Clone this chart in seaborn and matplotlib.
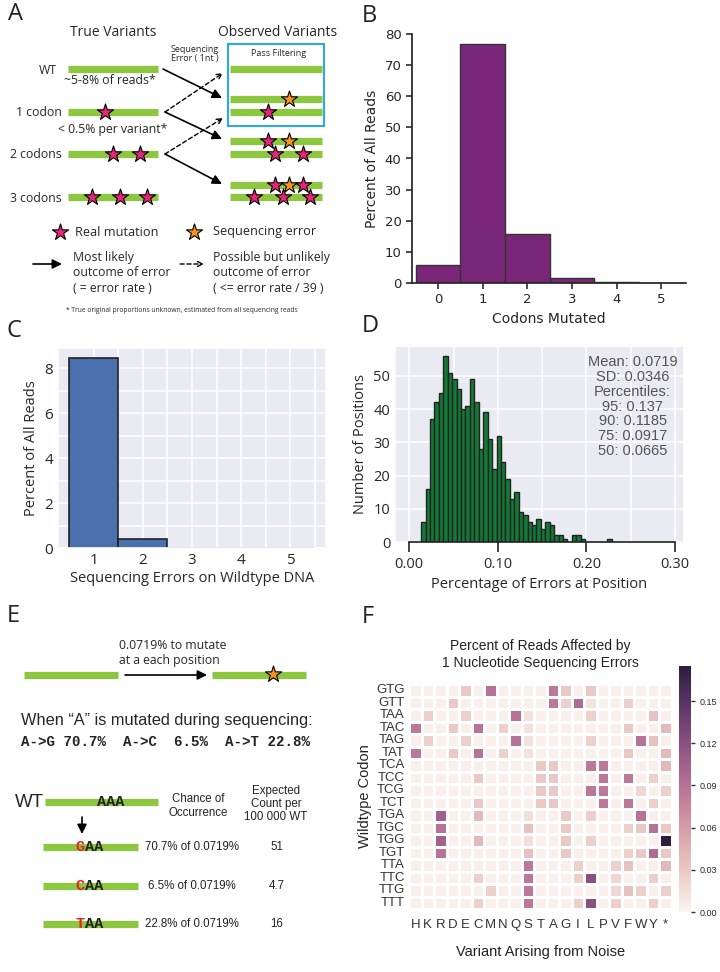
import numpy as np
import pandas as pd
import matplotlib.pyplot as plt
import seaborn as sns

# Panel B: codons mutated per read
codons_mutated = [0, 1, 2, 3, 4, 5]
pct_codons_mutated = [5.8, 76.8, 15.8, 1.7, 0.25, 0.05]

# Panel C: sequencing errors on wildtype DNA
seq_errors = [1, 2, 3, 4, 5]
pct_seq_errors = [8.46, 0.42, 0.02, 0.0, 0.0]

# Panel D: histogram of error percentage per position
err_bin_start = 0.0135
err_bin_width = 0.005
err_counts = [6, 16, 37, 42, 45, 56, 51, 49, 46, 40, 41, 49, 42, 28, 39, 31,
              22, 32, 24, 19, 13, 15, 9, 8, 6, 5, 7, 4, 6, 5, 2, 2, 1, 0, 2,
              2, 1, 0, 0, 0, 0, 0, 1]
err_stats = ["Mean: 0.0719", "SD: 0.0346", "Percentiles:", "95: 0.137",
             "90: 0.1185", "75: 0.0917", "50: 0.0665"]

# Panel E: A mutation table
mut_rates = ["70.7%", "6.5%", "22.8%"]
mut_bases = ["G", "C", "T"]
mut_expected = ["51", "4.7", "16"]

# Panel F: heatmap of 1nt sequencing errors
wt_codons = ["GTG", "GTT", "TAA", "TAC", "TAG", "TAT", "TCA", "TCC", "TCG",
             "TCT", "TGA", "TGC", "TGG", "TGT", "TTA", "TTC", "TTG", "TTT"]
variant_aas = ["H", "K", "R", "D", "E", "C", "M", "N", "Q", "S", "T", "A",
               "G", "I", "L", "P", "V", "F", "W", "Y", "*"]
noise_base = 0.003
noise_hits = {
    "GTG": {"E": 0.03, "M": 0.09, "A": 0.085, "G": 0.03, "L": 0.03},
    "GTT": {"D": 0.03, "A": 0.085, "G": 0.025, "I": 0.095, "L": 0.012, "F": 0.025},
    "TAA": {"K": 0.025, "E": 0.025, "Q": 0.09, "S": 0.012, "L": 0.025, "Y": 0.035},
    "TAC": {"H": 0.085, "D": 0.03, "C": 0.09, "N": 0.025, "S": 0.012, "F": 0.03, "*": 0.04},
    "TAG": {"K": 0.025, "E": 0.025, "Q": 0.09, "S": 0.012, "L": 0.025, "W": 0.09, "Y": 0.035},
    "TAT": {"H": 0.085, "D": 0.03, "C": 0.09, "N": 0.025, "S": 0.012, "F": 0.03, "*": 0.04},
    "TCA": {"T": 0.03, "A": 0.03, "L": 0.085, "P": 0.085, "*": 0.04},
    "TCC": {"C": 0.03, "T": 0.03, "A": 0.03, "P": 0.085, "F": 0.085, "Y": 0.025},
    "TCG": {"T": 0.03, "A": 0.03, "L": 0.085, "P": 0.085, "W": 0.02, "*": 0.025},
    "TCT": {"C": 0.03, "T": 0.03, "A": 0.03, "P": 0.085, "F": 0.085, "Y": 0.025},
    "TGA": {"R": 0.105, "C": 0.04, "S": 0.015, "G": 0.03, "L": 0.025, "W": 0.09},
    "TGC": {"R": 0.09, "S": 0.035, "G": 0.03, "F": 0.025, "W": 0.03, "Y": 0.09, "*": 0.03},
    "TGG": {"R": 0.105, "C": 0.04, "S": 0.015, "G": 0.03, "L": 0.025, "*": 0.175},
    "TGT": {"R": 0.09, "S": 0.035, "G": 0.03, "F": 0.025, "W": 0.03, "Y": 0.095, "*": 0.03},
    "TTA": {"S": 0.085, "I": 0.025, "V": 0.025, "F": 0.035, "*": 0.04},
    "TTC": {"C": 0.025, "S": 0.085, "I": 0.025, "L": 0.12, "V": 0.02, "Y": 0.025},
    "TTG": {"M": 0.025, "S": 0.085, "V": 0.02, "F": 0.035, "W": 0.025, "*": 0.025},
    "TTT": {"C": 0.025, "S": 0.085, "I": 0.025, "L": 0.12, "V": 0.025, "Y": 0.025},
}

GREEN = '#8dc63f'
PINK = '#e8247c'
ORANGE = '#f7941e'
MYRIAD = ['Open Sans', 'DejaVu Sans']
ARIAL = ['Liberation Sans', 'DejaVu Sans']
MONO = ['Liberation Mono', 'DejaVu Sans Mono']

sns.set_theme(style="darkgrid")
plt.rcParams['font.family'] = ['DejaVu Sans']

fig = plt.figure(figsize=(7.2, 9.72), dpi=100)
W, H = 720, 972


def px_axes(x0, y0, x1, y1):
    return fig.add_axes([x0 / W, 1 - y1 / H, (x1 - x0) / W, (y1 - y0) / H])


def green_bar(ax, x0, x1, y):
    ax.plot([x0, x1], [y, y], color=GREEN, lw=5.2, solid_capstyle='butt', zorder=1)


def stars(ax, xs, ys, color, s=150):
    ax.scatter(xs, ys, marker='*', s=s, c=color, edgecolors='black',
               linewidths=0.8, zorder=3)


def arrow(ax, x0, y0, x1, y1, dashed=False):
    if dashed:
        props = dict(arrowstyle='->', color='black', lw=1.0, linestyle=(0, (3, 2)),
                     mutation_scale=9, shrinkA=0, shrinkB=0)
    else:
        props = dict(arrowstyle='-|>', color='black', lw=1.2,
                     mutation_scale=14, shrinkA=0, shrinkB=0)
    ax.annotate('', xy=(x1, y1), xytext=(x0, y0), arrowprops=props)


# ---------------- Panel A ----------------
with sns.axes_style("white"):
    axA = px_axes(0, 0, 360, 330)
axA.set_xlim(0, 360)
axA.set_ylim(330, 0)
axA.axis('off')

axA.text(113, 32, "True Variants", ha='center', va='center', fontsize=10, family=MYRIAD)
axA.text(278, 32, "Observed Variants", ha='center', va='center', fontsize=10, family=MYRIAD)
axA.text(195, 54, "Sequencing\nError ( 1nt )", ha='center', va='center', fontsize=6.5,
         family=MYRIAD, linespacing=1.1)
axA.add_patch(plt.Rectangle((228, 44), 96, 82, fill=False, ec='#29abe2', lw=1.5))
axA.text(279, 54, "Pass Filtering", ha='center', va='center', fontsize=6.5, family=MYRIAD)

row_names = ["WT", "1 codon", "2 codons", "3 codons"]
row_y = [69, 112, 154, 197]
for name, y in zip(row_names, row_y):
    green_bar(axA, 68, 158, y)
    axA.text(62 if name != "WT" else 57, y + 1, name, ha='right', va='center',
             fontsize=8.8, family=MYRIAD)
axA.text(110, 81, "~5-8% of reads*", ha='center', va='center', fontsize=8.8, family=MYRIAD)
axA.text(113, 129, "< 0.5% per variant*", ha='center', va='center', fontsize=8.8, family=MYRIAD)
stars(axA, [105, 113, 140, 92, 120, 147], [112, 154, 154, 197, 197, 197], PINK)

obs_y = [69, 99, 112, 141, 154, 185, 197]
for y in obs_y:
    green_bar(axA, 230, 322, y)
stars(axA, [268, 268, 275, 303, 275, 303, 254, 283, 310],
      [112, 141, 154, 154, 185, 185, 197, 197, 197], PINK)
stars(axA, [289, 289, 289], [99, 141, 185], ORANGE)

arrow(axA, 163, 69, 222, 98)
arrow(axA, 165, 112, 222, 139)
arrow(axA, 165, 154, 222, 184)
arrow(axA, 165, 112, 223, 73, dashed=True)
arrow(axA, 165, 154, 223, 118, dashed=True)

stars(axA, [60], [232], PINK)
axA.text(75, 232, "Real mutation", ha='left', va='center', fontsize=9.2, family=MYRIAD)
stars(axA, [194], [232], ORANGE)
axA.text(213, 232, "Sequencing error", ha='left', va='center', fontsize=9.2, family=MYRIAD)
arrow(axA, 33, 264, 62, 264)
axA.text(73, 273, "Most likely\noutcome of error\n( = error rate )", ha='left', va='center',
         fontsize=8.8, family=MYRIAD, linespacing=1.2)
arrow(axA, 180, 264, 204, 264, dashed=True)
axA.text(213, 273, "Possible but unlikely\noutcome of error\n( <= error rate / 39 )",
         ha='left', va='center', fontsize=8.8, family=MYRIAD, linespacing=1.2)
axA.text(182, 310, "* True original proportions unknown, estimated from all sequencing reads",
         ha='center', va='center', fontsize=4.8, family=MYRIAD)

# ---------------- Panel B ----------------
with sns.axes_style("ticks"):
    axB = px_axes(412, 34, 686, 283)
sns.barplot(x=codons_mutated, y=pct_codons_mutated, color='#7a2678', saturation=1,
            width=1, edgecolor='#333333', linewidth=1, ax=axB)
axB.set_xlim(-0.58, 5.55)
axB.set_ylim(0, 80)
axB.set_yticks(range(0, 81, 10))
axB.set_xlabel("Codons Mutated", fontsize=10)
axB.set_ylabel("Percent of All Reads", fontsize=10)
axB.tick_params(labelsize=9.5, length=4, color='#333333')
sns.despine(ax=axB)

# ---------------- Panel C ----------------
axC = px_axes(58, 348, 326, 548)
sns.barplot(x=seq_errors, y=pct_seq_errors, native_scale=True, color='#4a70ae',
            saturation=1, width=1, edgecolor='#222222', linewidth=1.2, ax=axC)
axC.set_xlim(0.27, 5.73)
axC.set_ylim(0, 8.9)
axC.set_xticks([1.5, 2.5, 3.5, 4.5, 5.5])
axC.set_xticklabels([])
axC.set_xticks(seq_errors, minor=True)
axC.set_xticklabels([str(v) for v in seq_errors], minor=True, family=MYRIAD, fontsize=11)
axC.set_yticks([0, 2, 4, 6, 8])
axC.set_yticks([1, 3, 5, 7], minor=True)
axC.grid(which='both', color='white', lw=1.1)
axC.tick_params(which='both', length=0, labelsize=11)
for lab in axC.get_yticklabels():
    lab.set_family(MYRIAD)
axC.set_xlabel("Sequencing Errors on Wildtype DNA", family=MYRIAD, fontsize=10.5, labelpad=2)
axC.set_ylabel("Percent of All Reads", family=MYRIAD, fontsize=10.5)

# ---------------- Panel D ----------------
axD = px_axes(395, 346, 684, 542)
err_df = pd.DataFrame({
    "pct": err_bin_start + err_bin_width * (np.arange(len(err_counts)) + 0.5),
    "n": err_counts,
})
sns.histplot(data=err_df, x="pct", weights="n", binwidth=err_bin_width,
             binrange=(err_bin_start, err_bin_start + err_bin_width * len(err_counts)),
             color='#137a36', alpha=1, edgecolor='#222222', linewidth=1, ax=axD)
axD.set_xlim(-0.016, 0.31)
axD.set_ylim(0, 59)
axD.set_xticks([0.0, 0.1, 0.2, 0.3])
axD.set_xticklabels(["0.00", "0.10", "0.20", "0.30"], family=MYRIAD, fontsize=10.5)
axD.set_xticks([0.05, 0.15, 0.25], minor=True)
axD.set_yticks(range(0, 51, 10))
axD.set_yticklabels([str(v) for v in range(0, 51, 10)], family=MYRIAD, fontsize=10.5)
axD.grid(which='both', color='white', lw=1.1)
axD.tick_params(axis='y', length=0)
axD.tick_params(axis='x', which='major', bottom=True, length=7, width=1.2, color='#222222')
axD.tick_params(axis='x', which='minor', length=0)
axD.spines['bottom'].set_visible(True)
axD.spines['bottom'].set_color('#222222')
axD.spines['bottom'].set_linewidth(1.2)
axD.spines['bottom'].set_bounds(0, 0.3)
axD.set_xlabel("Percentage of Errors at Position", family=MYRIAD, fontsize=10.5)
axD.set_ylabel("Number of Positions", family=MYRIAD, fontsize=10.5)
axD.text(0.252, 56.3, "\n".join(err_stats), ha='center', va='top', fontsize=10.5,
         family=ARIAL, color='#555555', linespacing=1.08)

# ---------------- Panel E ----------------
with sns.axes_style("white"):
    axE = px_axes(0, 640, 360, 972)
axE.set_xlim(0, 360)
axE.set_ylim(972, 640)
axE.axis('off')

axE.text(119, 653, "0.0719% to mutate\nat a each position", ha='left', va='center',
         fontsize=8.8, family=MYRIAD, linespacing=1.15)
green_bar(axE, 24, 118, 675)
arrow(axE, 125, 675, 207, 675)
green_bar(axE, 212, 306, 675)
stars(axE, [273], [674], ORANGE)

axE.text(21, 720, "When \u201cA\u201d is mutated during sequencing:", ha='left', va='center',
         fontsize=11.8, family=ARIAL)
axE.text(21, 742, "A->G 70.7%  A->C  6.5%  A->T 22.8%", ha='left', va='center',
         fontsize=10.2, family=MONO, weight='bold', color='#222222')

axE.text(15, 802, "WT", ha='left', va='center', fontsize=13.5, family=ARIAL)
green_bar(axE, 45, 158, 802)
axE.text(111, 802, "AAA", ha='center', va='center', fontsize=11, family=MONO,
         weight='bold', color='#222222', zorder=4)
arrow(axE, 82, 817, 82, 834)
axE.text(198, 806, "Chance of\nOccurrence", ha='center', va='center', fontsize=8.3,
         family=ARIAL, color='#222222', linespacing=1.15)
axE.text(276, 804, "Expected\nCount per\n100 000 WT", ha='center', va='center', fontsize=8.3,
         family=ARIAL, color='#222222', linespacing=1.15)

mut_y = [847, 886, 924]
for base, rate, expct, y in zip(mut_bases, mut_rates, mut_expected, mut_y):
    green_bar(axE, 43, 138, y)
    axE.text(85, y, base, ha='right', va='center', fontsize=11, family=MONO,
             weight='bold', color='#e8202a', zorder=4)
    axE.text(85, y, "AA", ha='left', va='center', fontsize=11, family=MONO,
             weight='bold', color='#222222', zorder=4)
    axE.text(192, y, rate + " of 0.0719%", ha='center', va='center', fontsize=8.3,
             family=ARIAL, color='#222222')
    axE.text(277, y, expct, ha='center', va='center', fontsize=8.3, family=ARIAL,
             color='#222222')

# ---------------- Panel F ----------------
noise_df = pd.DataFrame(noise_hits).T.reindex(index=wt_codons, columns=variant_aas)
noise_df = noise_df.fillna(noise_base)
with sns.axes_style("white"):
    axF = px_axes(409, 684, 672, 909)
    caxF = px_axes(679, 666, 691, 912)
cmap = sns.cubehelix_palette(light=0.96, dark=0.15, as_cmap=True)
sns.heatmap(noise_df, cmap=cmap, vmin=0, vmax=0.175, linewidths=0.8, linecolor='white',
            xticklabels=variant_aas, yticklabels=wt_codons, ax=axF, cbar_ax=caxF,
            cbar_kws={'ticks': [0, 0.03, 0.06, 0.09, 0.12, 0.15], 'format': '%.2f'})
axF.set_title("Percent of Reads Affected by\n1 Nucleotide Sequencing Errors",
              family=ARIAL, fontsize=10, pad=12.5, color='#222222')
axF.set_xlabel("Variant Arising from Noise", family=ARIAL, fontsize=10.5,
               color='#222222', labelpad=10)
axF.set_ylabel("Wildtype Codon", family=ARIAL, fontsize=10.5, color='#222222', labelpad=3)
axF.tick_params(axis='x', length=0, pad=7, labelsize=9.5, labelcolor='#333333')
axF.tick_params(axis='y', length=0, pad=3, labelsize=9.5, labelcolor='#333333',
                labelrotation=0)
for lab in axF.get_xticklabels() + axF.get_yticklabels():
    lab.set_family(ARIAL)
caxF.tick_params(length=3, width=1, color='#333333', labelsize=6.5)
for lab in caxF.get_yticklabels():
    lab.set_family(ARIAL)
axF.collections[0].colorbar.outline.set_visible(False)

# panel letters
for letter, x, y in [("A", 8, 14), ("B", 362, 16), ("C", 7, 331), ("D", 362, 326),
                     ("E", 7, 616), ("F", 362, 617)]:
    fig.text(x / W, 1 - y / H, letter, ha='left', va='center', fontsize=17,
             family=MYRIAD, color='#222222')

fig.savefig("out.png", dpi=100)
